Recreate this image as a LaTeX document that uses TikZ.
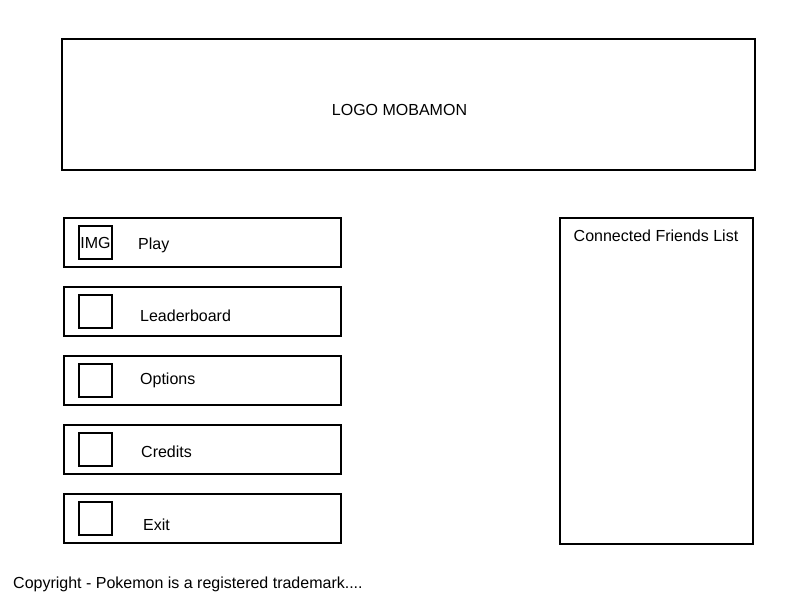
\documentclass[tikz,border=0pt]{standalone}
\usepackage{fontspec}
\setmainfont{Liberation Sans}
\usepackage{tikz}
\usetikzlibrary{positioning}
\newcommand{\framewidth}{2pt}
\newcommand{\btnwidth}{277pt}
\newcommand{\btnheight}{49pt}
\newcommand{\imgsize}{33pt}
\tikzset{
  frame/.style={draw, line width=\framewidth, rectangle, inner sep=0pt},
  button/.style={frame, minimum width=\btnwidth, minimum height=\btnheight},
  imgbox/.style={frame, minimum width=\imgsize, minimum height=\imgsize},
  caption/.style={inner sep=0pt, font=\fontsize{16pt}{19pt}\selectfont},
}
\begin{document}
\begin{tikzpicture}[x=1pt, y=-1pt]
\useasboundingbox (0,0) rectangle (800,600);
%logo
\node[frame, minimum width=693pt, minimum height=131pt] (logo) at (408.5, 104.5) {};
\node[caption] (logotext) at (399.5, 109.5) {LOGO MOBAMON};
%buttons
\node[button] (play) at (202.5, 242.5) {};
\node[button] (leaderboard) at (202.5, 311.5) {};
\node[button] (options) at (202.5, 380.5) {};
\node[button] (credits) at (202.5, 449.5) {};
\node[button] (exit) at (202.5, 518.5) {};
%images
\node[imgbox, caption] (playimg) at (95.5, 242.5) {IMG};
\node[imgbox] (leaderboardimg) at (95.5, 311.5) {};
\node[imgbox] (optionsimg) at (95.5, 380) {};
\node[imgbox] (creditsimg) at (95.5, 449) {};
\node[imgbox] (exitimg) at (95.5, 518) {};
%labels
\node[caption, anchor=west] (playtext) at (138, 245.5) {Play};
\node[caption, anchor=west] (leaderboardtext) at (140, 315.5) {Leaderboard};
\node[caption, anchor=west] (optionstext) at (140, 380.5) {Options};
\node[caption, anchor=west] (creditstext) at (141, 451.5) {Credits};
\node[caption, anchor=west] (exittext) at (143, 524.5) {Exit};
%friends
\node[frame, minimum width=193pt, minimum height=326pt] (friends) at (656.5, 381) {};
\node[caption] (friendstext) at (656, 235.5) {Connected Friends List};
%copyright
\node[caption, anchor=west] (copyright) at (13, 584.5) {Copyright - Pokemon is a registered trademark....};
\end{tikzpicture}
\end{document}
